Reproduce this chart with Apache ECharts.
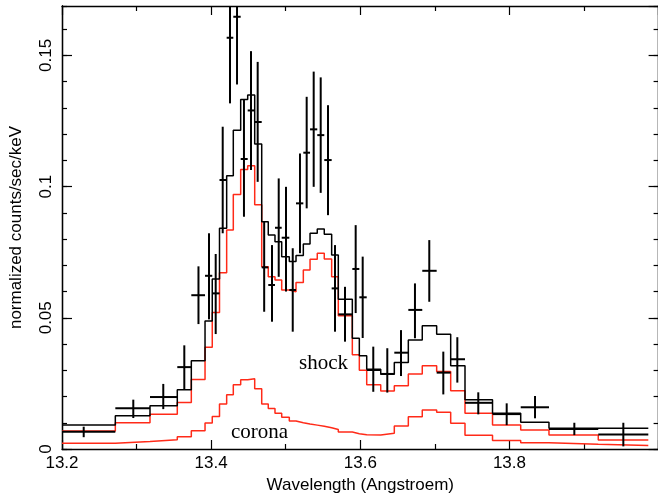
<!DOCTYPE html>
<html><head><meta charset="utf-8">
<script src="https://cdn.jsdelivr.net/npm/echarts@6/dist/echarts.min.js"></script>
<style>html,body{margin:0;padding:0;background:#fff}#c{width:658px;height:497px}</style>
</head><body><div id="c"></div>
<script>
// Bin edges of the grouped spectrum (Angstroem)
const binEdges = [13.2000,13.2715,13.3180,13.3546,13.3734,13.3918,13.4015,13.4112,13.4208,13.4297,
  13.4396,13.4490,13.4584,13.4678,13.4766,13.4856,13.4946,13.5048,13.5138,13.5236,
  13.5326,13.5423,13.5517,13.5616,13.5705,13.5893,13.5987,13.6086,13.6274,13.6456,
  13.6644,13.6831,13.7024,13.7212,13.7404,13.7773,13.8151,13.8530,13.9191,13.9862];
// Total model (black)
const totalModel = [0.0091,0.0127,0.0165,0.0226,0.0336,0.0488,0.0648,0.0841,0.1041,0.1215,
  0.1332,0.1349,0.1162,0.0866,0.0815,0.0790,0.0733,0.0714,0.0737,0.0781,
  0.0822,0.0838,0.0818,0.0739,0.0571,0.0422,0.0355,0.0304,0.0285,0.0330,
  0.0415,0.0470,0.0437,0.0317,0.0188,0.0136,0.0102,0.0079,0.0079];
// Shock component (red, upper)
const shockModel = [0.0069,0.0100,0.0132,0.0177,0.0265,0.0388,0.0520,0.0672,0.0834,0.0970,
  0.1065,0.1079,0.0931,0.0694,0.0656,0.0644,0.0606,0.0599,0.0634,0.0682,
  0.0723,0.0746,0.0724,0.0656,0.0508,0.0359,0.0300,0.0245,0.0221,0.0241,
  0.0286,0.0317,0.0295,0.0222,0.0136,0.0091,0.0072,0.0053,0.0034];
// Corona component (red, lower)
const coronaModel = [0.0022,0.0029,0.0035,0.0047,0.0070,0.0099,0.0124,0.0171,0.0207,0.0245,
  0.0264,0.0268,0.0230,0.0171,0.0154,0.0136,0.0121,0.0107,0.0100,0.0095,
  0.0091,0.0087,0.0081,0.0074,0.0065,0.0058,0.0054,0.0053,0.0060,0.0088,
  0.0123,0.0149,0.0140,0.0098,0.0052,0.0032,0.0024,0.0018,0.0013];
// Observed data points
const dataX = [13.2291,13.2956,13.3358,13.3640,13.3830,13.3971,13.4061,13.4155,13.4253,13.4347,
  13.4440,13.4534,13.4624,13.4711,13.4816,13.4906,13.5004,13.5094,13.5191,13.5281,
  13.5375,13.5469,13.5567,13.5661,13.5795,13.5938,13.6032,13.6174,13.6362,13.6546,
  13.6733,13.6925,13.7113,13.7301,13.7582,13.7963,13.8343,13.8870,13.9527];
const dataY = [0.0066,0.0155,0.0198,0.0312,0.0586,0.0660,0.0593,0.1025,0.1567,0.1647,
  0.1105,0.1290,0.1246,0.0692,0.0625,0.0843,0.0805,0.0606,0.0936,0.1129,
  0.1218,0.1196,0.1101,0.0612,0.0513,0.0686,0.0578,0.0301,0.0286,0.0367,
  0.0530,0.0679,0.0291,0.0342,0.0176,0.0133,0.0159,0.0076,0.0055];
const dataLo = [0.0045,0.0118,0.0152,0.0226,0.0476,0.0494,0.0438,0.0822,0.1317,0.1389,
  0.0885,0.1063,0.1018,0.0523,0.0485,0.0656,0.0600,0.0447,0.0746,0.0917,
  0.0999,0.0976,0.0891,0.0447,0.0409,0.0518,0.0423,0.0218,0.0215,0.0278,
  0.0422,0.0561,0.0208,0.0253,0.0132,0.0091,0.0117,0.0053,0.0010];
const dataHi = [0.0085,0.0188,0.0248,0.0395,0.0696,0.0822,0.0743,0.1228,0.1817,0.1905,
  0.1330,0.1516,0.1475,0.0866,0.0777,0.1031,0.0999,0.0765,0.1126,0.1342,
  0.1438,0.1416,0.1310,0.0777,0.0618,0.0853,0.0733,0.0390,0.0384,0.0453,
  0.0631,0.0796,0.0371,0.0426,0.0216,0.0174,0.0202,0.0100,0.0100];
const xTickLabels = ['13.2','13.4','13.6','13.8'];
const yTickLabels = ['0','0.05','0.1','0.15'];

function stepData(vals) {
  const d = vals.map((v, i) => [binEdges[i], v]);
  d.push([binEdges[binEdges.length - 1], vals[vals.length - 1]]);
  return d;
}
const errData = dataX.map((x, i) => [x, dataY[i], dataLo[i], dataHi[i], binEdges[i], binEdges[i + 1]]);

const FONT = 'Liberation Sans';
const chart = echarts.init(document.getElementById('c'), null, {renderer: 'canvas'});
const axisLine = {show: true, onZero: false, lineStyle: {color: '#000', width: 1.3}};
const yBase = {type: 'value', min: 0, max: 0.1688, splitLine: {show: false}, axisLine: axisLine};
const tickStyle = {color: '#000', width: 1.2};
chart.setOption({
  animation: false,
  backgroundColor: '#fff',
  grid: {left: 62, top: 6, width: 596.6, height: 443, outerBoundsMode: 'none', containLabel: false},
  xAxis: [
    {type: 'value', position: 'bottom', min: 13.2, max: 14.0, interval: 0.2,
     axisLine: axisLine, splitLine: {show: false},
     axisTick: {show: true, inside: true, length: 9, lineStyle: tickStyle},
     minorTick: {show: true, splitNumber: 2, length: 5, lineStyle: tickStyle},
     minorSplitLine: {show: false},
     axisLabel: {show: true, showMaxLabel: false, margin: 6, color: '#000', fontSize: 17, fontFamily: FONT,
       formatter: v => { const s = v.toFixed(1); return xTickLabels.indexOf(s) >= 0 ? s : ''; }},
     name: 'Wavelength (Angstroem)', nameLocation: 'middle', nameGap: 27,
     nameTextStyle: {color: '#000', fontSize: 17, fontFamily: FONT}},
    {type: 'value', position: 'top', min: 13.2, max: 14.0, interval: 0.2,
     axisLine: axisLine, splitLine: {show: false},
     axisTick: {show: true, inside: true, length: 9, lineStyle: tickStyle},
     minorTick: {show: true, splitNumber: 2, length: 5, lineStyle: tickStyle},
     minorSplitLine: {show: false}, axisLabel: {show: false}}
  ],
  yAxis: [
    Object.assign({}, yBase, {position: 'left', interval: 0.05,
      axisTick: {show: true, inside: true, length: 10, lineStyle: tickStyle},
      axisLabel: {show: true, showMaxLabel: false, rotate: 90, margin: 7, color: '#000', fontSize: 17, fontFamily: FONT,
        formatter: v => { const s = String(+v.toFixed(3)); return yTickLabels.indexOf(s) >= 0 ? s : ''; }},
      name: 'normalized counts/sec/keV', nameLocation: 'middle', nameRotate: 90, nameGap: 37,
      nameTextStyle: {color: '#000', fontSize: 17, fontFamily: FONT}}),
    Object.assign({}, yBase, {position: 'left', interval: 0.01,
      axisTick: {show: true, inside: true, length: 5, lineStyle: tickStyle},
      axisLabel: {show: false}}),
    Object.assign({}, yBase, {position: 'right', offset: 0, interval: 0.05,
      axisTick: {show: true, inside: true, length: 10, lineStyle: tickStyle},
      axisLabel: {show: false}}),
    Object.assign({}, yBase, {position: 'right', offset: 0, interval: 0.01,
      axisTick: {show: true, inside: true, length: 5, lineStyle: tickStyle},
      axisLabel: {show: false}})
  ],
  series: [
    {type: 'line', name: 'corona', step: 'end', data: stepData(coronaModel), showSymbol: false, symbol: 'none',
     lineStyle: {color: '#ff2a18', width: 1.5}, z: 2},
    {type: 'line', name: 'shock', step: 'end', data: stepData(shockModel), showSymbol: false, symbol: 'none',
     lineStyle: {color: '#ff2a18', width: 1.5}, z: 3},
    {type: 'line', name: 'total', step: 'end', data: stepData(totalModel), showSymbol: false, symbol: 'none',
     lineStyle: {color: '#000', width: 1.5}, z: 4},
    {type: 'custom', name: 'data', data: errData, z: 5,
     renderItem: function (params, api) {
       const x = api.value(0), y = api.value(1), lo = api.value(2), hi = api.value(3);
       const pL = api.coord([api.value(4), y]), pR = api.coord([api.value(5), y]);
       const pT = api.coord([x, hi]), pB = api.coord([x, lo]);
       const top = params.coordSys.y;
       return {type: 'group', children: [
         {type: 'line', shape: {x1: pL[0], y1: pL[1], x2: pR[0], y2: pR[1]}, style: {stroke: '#000', lineWidth: 2}},
         {type: 'line', shape: {x1: pT[0], y1: Math.max(pT[1], top), x2: pB[0], y2: pB[1]}, style: {stroke: '#000', lineWidth: 2}}
       ]};
     }}
  ],
  graphic: [
    {type: 'text', left: 299, top: 353, style: {text: 'shock', fill: '#000', font: '21px "Liberation Serif"'}},
    {type: 'text', left: 231, top: 422, style: {text: 'corona', fill: '#000', font: '21px "Liberation Serif"'}}
  ]
});
</script>
</body></html>
